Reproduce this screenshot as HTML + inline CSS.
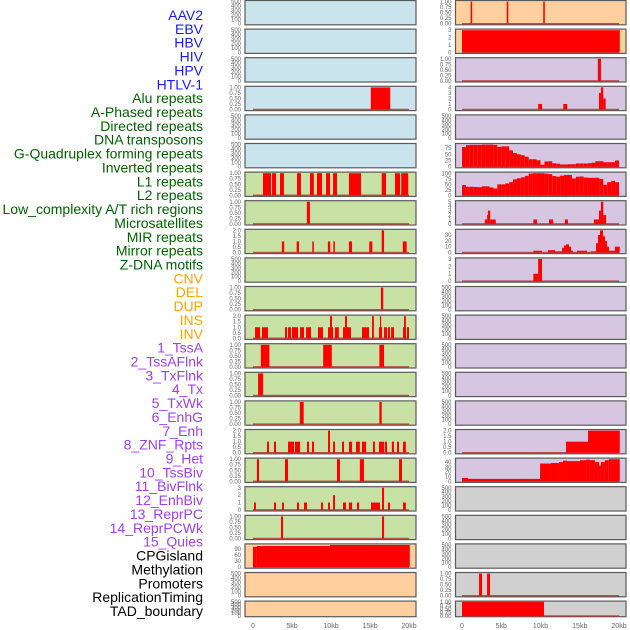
<!DOCTYPE html>
<html><head><meta charset="utf-8">
<style>
html,body{margin:0;padding:0;background:#fff;}
svg{display:block;font-family:"Liberation Sans",sans-serif;}
</style></head>
<body>
<svg id="chart" width="630" height="630" viewBox="0 0 630 630" xmlns="http://www.w3.org/2000/svg"></svg>
<script>
// ---- labels ----
const trackLabels = ["AAV2","EBV","HBV","HIV","HPV","HTLV-1","Alu repeats","A-Phased repeats","Directed repeats","DNA transposons","G-Quadruplex forming repeats","Inverted repeats","L1 repeats","L2 repeats","Low_complexity A/T rich regions","Microsatellites","MIR repeats","Mirror repeats","Z-DNA motifs","CNV","DEL","DUP","INS","INV","1_TssA","2_TssAFlnk","3_TxFlnk","4_Tx","5_TxWk","6_EnhG","7_Enh","8_ZNF_Rpts","9_Het","10_TssBiv","11_BivFlnk","12_EnhBiv","13_ReprPC","14_ReprPCWk","15_Quies","CPGisland","Methylation","Promoters","ReplicationTiming","TAD_boundary"];
const labelGroups = ["virus","virus","virus","virus","virus","virus","repeat","repeat","repeat","repeat","repeat","repeat","repeat","repeat","repeat","repeat","repeat","repeat","repeat","sv","sv","sv","sv","sv","chrom","chrom","chrom","chrom","chrom","chrom","chrom","chrom","chrom","chrom","chrom","chrom","chrom","chrom","chrom","other","other","other","other","other"];
const xTickValues = [0,5,10,15,20];
const xTickLabels = ["0","5kb","10kb","15kb","20kb"];

// ---- tick arrays ----
const ticksEmpty = ["0","100","200","300","400","500"];
const ticksUnit = ["0.00","0.25","0.50","0.75","1.00"];
const ticksTwo = ["0.0","0.5","1.0","1.5","2.0"];
const ticksThree = ["0","1","2","3"];
const ticksFour = ["0","1","2","3","4"];
const ticksFive = ["0","1","2","3","4","5"];
const ticks90 = ["0","30","60","90"];
const ticks75 = ["0","25","50","75"];
const ticks100 = ["0","25","50","75","100"];
const ticks30 = ["0","10","20","30"];
const ticks40 = ["0","10","20","30","40"];

// ---- segment data [startKb, endKb, value] ----
const hivSegs = [[15.1,17.6,1]];
const aluSegs = [[1.28,2.31,1],[2.44,2.95,1],[3.46,3.97,1],[5.64,6.15,1],[7.3,7.8,1],[8.2,8.85,1],[9.36,9.87,1],[10.26,10.77,1],[12.3,13.85,1],[16.5,17.05,1],[18.2,18.85,1],[19.0,19.9,1]];
const aphasedSegs = [[6.9,7.3,1]];
const directedSegs = [[3.7,4.0,1],[5.6,5.9,1],[7.6,7.8,1],[9.6,9.9,1],[10.3,10.5,1],[12.3,12.7,1],[14.9,15.3,1],[16.5,16.8,2],[19.2,19.7,1]];
const gquadSegs = [[16.4,16.7,1]];
const invertedSegs = [[0.26,0.9,1],[1.15,1.92,1],[4.1,4.36,1],[4.49,4.87,1],[5.0,5.77,1],[6.03,6.54,1],[6.8,7.44,1],[8.33,8.97,1],[9.62,10.26,1],[9.87,10.13,2],[10.5,11.0,1],[11.54,12.56,1],[11.8,12.05,2],[13.97,14.87,1],[15.26,15.5,2],[16.15,16.54,1],[16.28,16.41,2],[16.8,17.18,1],[17.3,17.56,1],[17.7,18.08,1],[19.23,19.6,1],[19.36,19.6,2],[19.74,20.0,1]];
const l1Segs = [[1.0,2.1,1],[9.0,10.1,1],[16.2,16.8,1]];
const l2Segs = [[0.65,1.3,1]];
const lowcompSegs = [[6.0,6.5,1],[16.2,16.5,1]];
const microsatSegs = [[1.8,2.05,1],[2.69,2.95,1],[4.49,5.26,1],[5.38,6.03,1],[6.92,7.18,1],[7.56,7.82,1],[9.62,9.87,2],[10.26,10.51,1],[11.41,11.67,1],[12.3,12.7,1],[13.2,13.7,1],[13.97,14.5,1],[15.38,15.64,1],[16.15,16.8,1],[16.9,17.18,1],[17.8,18.08,1],[18.46,18.72,1],[19.23,19.6,1]];
const mirSegs = [[0.5,0.77,1],[4.1,4.49,1],[10.77,11.15,1],[13.7,14.23,1],[18.72,19.1,1]];
const mirrorSegs = [[0.13,0.38,1],[2.69,2.95,1],[3.72,3.97,1],[5.64,5.9,1],[6.54,6.92,1],[8.72,8.97,1],[9.62,9.87,1],[10.26,10.51,2],[11.54,11.92,1],[12.3,12.7,1],[13.33,13.6,1],[15.13,16.28,1],[16.54,16.8,3],[17.3,17.56,1],[19.23,19.6,1]];
const zdnaSegs = [[3.59,3.85,1],[16.54,16.8,1]];
const cnvSegs = [[0,0.5,100],[0.5,9.87,104],[9.87,20.1,109]];
const insSegs = [[1.1,1.3,1],[5.7,5.9,1],[10.35,10.55,1]];
const invSegs = [[0,20.1,3]];
const tssaSegs = [[17.3,17.7,1]];
const tssaflnkSegs = [[9.7,10.2,1],[12.9,13.4,1],[17.45,17.7,3],[17.7,18.0,4],[18.0,18.3,2]];
const enhgSegs = [[2.9,3.2,1],[3.2,3.3,2],[3.3,3.6,3],[3.6,4.3,1],[9.09,9.55,1],[11.08,11.6,1],[13.1,13.5,1],[16.8,17.45,1],[17.45,17.7,3],[17.7,18.0,5],[18.0,18.35,2]];
const enhSegs = [[9.09,10.19,3],[10.95,11.85,4],[11.85,12.74,2],[12.74,12.99,8],[12.99,13.25,12],[13.25,13.63,14],[13.63,13.89,10],[13.89,14.14,3],[14.65,15.92,3],[16.43,17.07,2],[17.07,17.32,16],[17.32,17.58,30],[17.58,17.96,38],[17.96,18.22,28],[18.22,18.47,20],[18.47,18.73,10],[18.73,19.49,3],[19.49,20.1,10]];
const znfSegs = [[9.09,9.7,1],[9.7,10.19,3]];
const reprpcwkSegs = [[13.25,16.05,1],[16.05,20.1,2]];
const quiesSegs = [[0,0.76,7],[0.76,9.94,5],[9.94,11.34,37],[11.34,12.36,38],[12.36,12.87,40],[12.87,13.38,43],[13.38,15.03,42],[15.03,15.8,44],[15.8,16.3,45],[16.3,16.94,44],[16.94,17.45,40],[17.45,17.7,33],[17.7,18.2,40],[18.2,18.7,44],[18.7,20.1,46]];
const replSegs = [[2.17,2.55,1],[3.19,3.57,1]];
const tadSegs = [[0,10.45,1]];

// ---- binned profiles (0.5kb bins) ----
const txBins = [79,87,88,88,88,89,89,89,88,80,82,82,66,55,50,46,40,30,30,26,8,21,22,14,12,9,9,10,10,13,13,13,14,16,22,22,18,18,18,25];
const txwkBins = [47,39,39,38,37,41,41,36,31,50,50,54,60,73,78,82,89,99,101,101,101,99,97,88,85,90,93,93,77,85,86,81,80,80,80,75,48,60,66,60];

const colors = {virus:"#1a1aff",repeat:"#006400",sv:"#ffa500",chrom:"#a040f0",other:"#000"};
const bgs = {blue:"#c9e4ec",green:"#c8e1a5",orange:"#ffd09e",purple:"#d6c6e2",grey:"#d0d0d0"};

const leftPanels = [
 ["aav2","blue",ticksEmpty,null],["ebv","blue",ticksEmpty,null],["hbv","blue",ticksEmpty,null],["hiv","blue",ticksUnit,hivSegs],["hpv","blue",ticksEmpty,null],["htlv1","blue",ticksEmpty,null],
 ["alu","green",ticksUnit,aluSegs],["aphased","green",ticksUnit,aphasedSegs],["directed","green",ticksTwo,directedSegs],["dna-transposons","green",ticksEmpty,null],["gquad","green",ticksUnit,gquadSegs],["inverted","green",ticksTwo,invertedSegs],["l1","green",ticksUnit,l1Segs],["l2","green",ticksUnit,l2Segs],["low-complexity","green",ticksUnit,lowcompSegs],["microsatellites","green",ticksTwo,microsatSegs],["mir","green",ticksUnit,mirSegs],["mirror","green",ticksThree,mirrorSegs],["zdna","green",ticksUnit,zdnaSegs],
 ["cnv","orange",ticks90,cnvSegs],["del","orange",ticksEmpty,null],["dup","orange",ticksEmpty,null]
];
const rightPanels = [
 ["ins","orange",ticksUnit,insSegs],["inv","orange",ticksThree,invSegs],["tssa","purple",ticksUnit,tssaSegs],["tssaflnk","purple",ticksFour,tssaflnkSegs],["txflnk","purple",ticksEmpty,null],["tx","purple",ticks75,txBins],["txwk","purple",ticks100,txwkBins],["enhg","purple",ticksFive,enhgSegs],["enh","purple",ticks30,enhSegs],["znf","purple",ticksThree,znfSegs],["het","purple",ticksEmpty,null],["tssbiv","purple",ticksEmpty,null],["bivflnk","purple",ticksEmpty,null],["enhbiv","purple",ticksEmpty,null],["reprpc","purple",ticksEmpty,null],["reprpcwk","purple",ticksTwo,reprpcwkSegs],["quies","purple",ticks40,quiesSegs],
 ["cpgisland","grey",ticksEmpty,null],["methylation","grey",ticksEmpty,null],["promoters","grey",ticksEmpty,null],["replication","grey",ticksUnit,replSegs],["tad","grey",ticksUnit,tadSegs]
];

const NS="http://www.w3.org/2000/svg";
const svg=document.getElementById("chart");
function mk(tag,attrs,parent){const e=document.createElementNS(NS,tag);for(const k in attrs)e.setAttribute(k,attrs[k]);(parent||svg).appendChild(e);return e;}

// labels
trackLabels.forEach((t,i)=>{
 const el=mk("text",{x:203,y:15+i*13.86+5,"text-anchor":"end","font-size":"14",fill:colors[labelGroups[i]]});
 
 
 el.textContent=t;
});

function drawPanel(p,col,row){
 const [name,bg,ticks,data]=p;
 const px = col===0?245:455.5, pw = col===0?171:170.5;
 const x0 = col===0?253:462, kbPx = col===0?7.8:7.85;
 const top = row*28.6+0.5, h = row===21?15.6:24.3;
 const xs = kb=>x0+kb*kbPx;
 const g=mk("g",{});
 
 
 const bgr=mk("rect",{x:px,y:top,width:pw,height:h,fill:bgs[bg],stroke:"#5a5a5a","stroke-width":"1.2"},g);
 
 
 const tickVals=ticks.map(Number);
 let maxv=tickVals[tickVals.length-1];
 let isBins = data && typeof data[0]==="number";
 if(data){ if(isBins) maxv=Math.max(maxv,...data); else data.forEach(s=>{maxv=Math.max(maxv,s[2]);}); }
 const lo=-0.05*maxv, hi=1.05*maxv;
 const ys=v=>top+h-(v-lo)/(hi-lo)*h;
 ticks.forEach((t,i)=>{
  const tl=mk("text",{x:px-4,y:ys(tickVals[i])+2,"text-anchor":"end","font-size":"6",fill:"#666"},g);
  
  
  tl.textContent=t;
 });
 if(data){
  const bl=mk("line",{x1:xs(0),x2:xs(20),y1:ys(0),y2:ys(0),stroke:"#b03030","stroke-width":"1.5","stroke-opacity":"0.8"},g);
  
  
  const segs = isBins ? data.map((v,i)=>[i*0.5,i*0.5+0.5,v]) : data;
  segs.forEach(s=>{
   const y=ys(s[2]);
   const r=mk("rect",{x:xs(s[0]),y:y,width:Math.max(1.2,xs(s[1])-xs(s[0])),height:ys(0)-y,fill:"#ff0000"},g);
   
   
  });
 }
 if(row===21){
  xTickValues.forEach((v,i)=>{
   const xl=mk("text",{x:xs(v),y:628,"text-anchor":"middle","font-size":"7",fill:"#666"},g);
   
   
   xl.textContent=xTickLabels[i];
  });
 }
}
leftPanels.forEach((p,i)=>drawPanel(p,0,i));
rightPanels.forEach((p,i)=>drawPanel(p,1,i));
</script>
</body></html>
